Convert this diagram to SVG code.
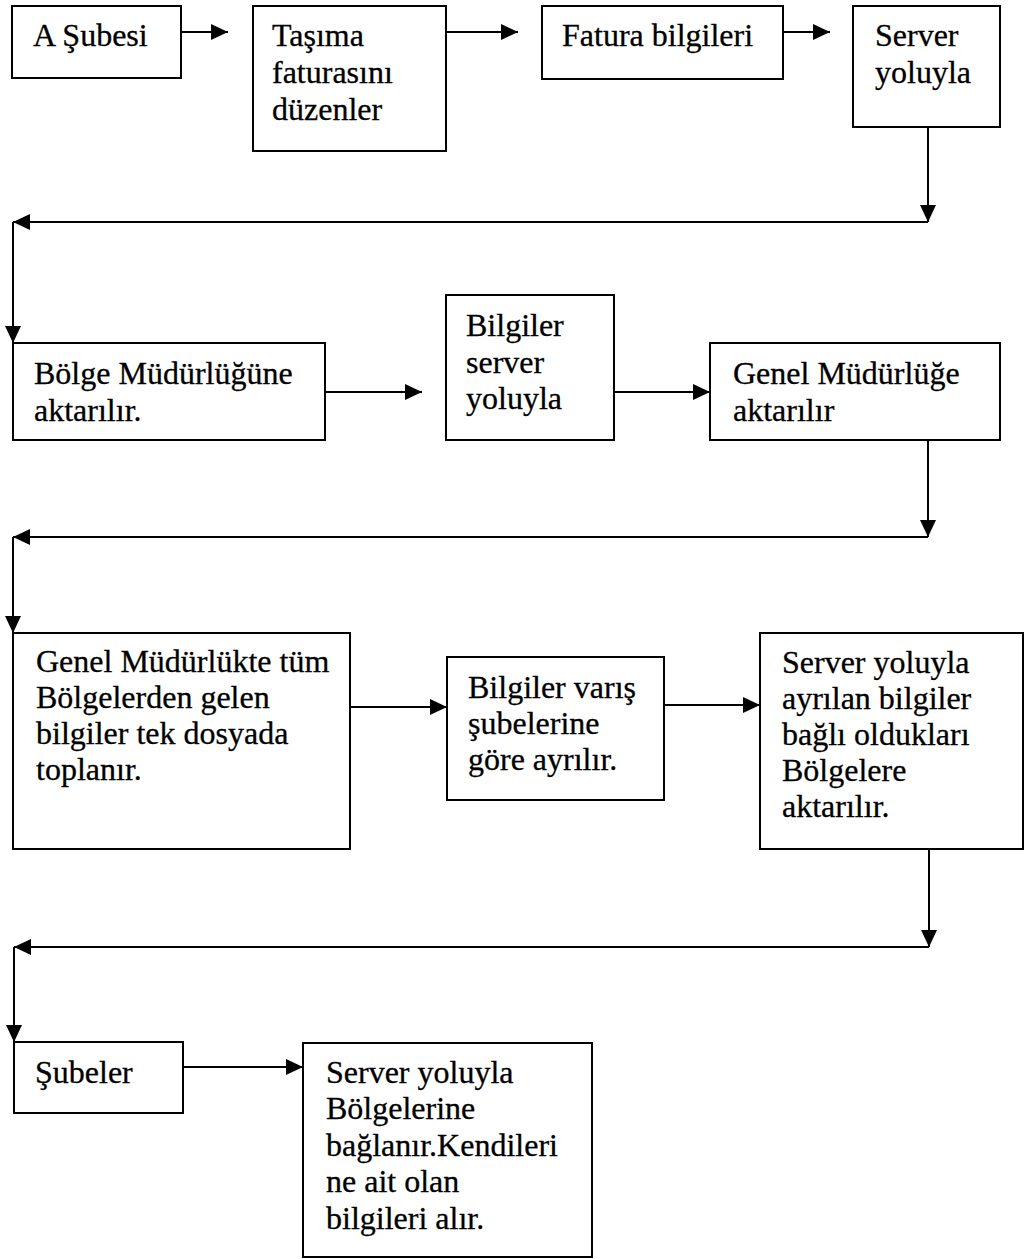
<svg xmlns="http://www.w3.org/2000/svg" width="1025" height="1259" viewBox="0 0 1025 1259">
<style>
.box{fill:#fff;stroke:#000;stroke-width:2}
.t{font-family:"Liberation Serif","Times New Roman",serif;font-size:32px;fill:#000;stroke:#000;stroke-width:0.3}
.c{stroke:#000;stroke-width:2;fill:none;marker-end:url(#ah)}
</style>
<defs>
<marker id="ah" markerUnits="userSpaceOnUse" markerWidth="18" markerHeight="16" refX="17" refY="8" orient="auto">
<path d="M0,0 L17,8 L0,16 z" fill="#000"/>
</marker>
</defs>
<rect width="1025" height="1259" fill="#fff"/>
<g id="connectors">
<line class="c" x1="181" y1="32" x2="228" y2="32"/>
<line class="c" x1="446" y1="32" x2="518" y2="32"/>
<line class="c" x1="783" y1="32" x2="830" y2="32"/>
<line class="c" x1="928" y1="127" x2="928" y2="222"/>
<line class="c" x1="928" y1="222" x2="13" y2="222"/>
<line class="c" x1="13" y1="222" x2="13" y2="343"/>
<line class="c" x1="325" y1="392" x2="422" y2="392"/>
<line class="c" x1="614" y1="392" x2="710" y2="392"/>
<line class="c" x1="928" y1="440" x2="928" y2="537"/>
<line class="c" x1="928" y1="537" x2="13" y2="537"/>
<line class="c" x1="13" y1="537" x2="13" y2="633"/>
<line class="c" x1="350" y1="707" x2="447" y2="707"/>
<line class="c" x1="664" y1="705" x2="760" y2="705"/>
<line class="c" x1="929" y1="849" x2="929" y2="947"/>
<line class="c" x1="929" y1="947" x2="14" y2="947"/>
<line class="c" x1="14" y1="947" x2="14" y2="1042"/>
<line class="c" x1="183" y1="1067" x2="303" y2="1067"/>
</g>
<g id="n1"><rect class="box" x="12" y="6" width="169" height="72"/><text class="t" x="33" y="46">A Şubesi</text></g>
<g id="n2"><rect class="box" x="253" y="6" width="193" height="145"/><text class="t" x="272" y="46">Taşıma</text><text class="t" x="272" y="83">faturasını</text><text class="t" x="272" y="120">düzenler</text></g>
<g id="n3"><rect class="box" x="542" y="6" width="241" height="73"/><text class="t" x="562" y="46">Fatura bilgileri</text></g>
<g id="n4"><rect class="box" x="853" y="6" width="147" height="121"/><text class="t" x="875" y="46">Server</text><text class="t" x="875" y="83">yoluyla</text></g>
<g id="n5"><rect class="box" x="13" y="343" width="312" height="97"/><text class="t" x="34" y="384">Bölge Müdürlüğüne</text><text class="t" x="34" y="421">aktarılır.</text></g>
<g id="n6"><rect class="box" x="446" y="295" width="168" height="145"/><text class="t" x="466" y="336">Bilgiler</text><text class="t" x="466" y="373">server</text><text class="t" x="466" y="409">yoluyla</text></g>
<g id="n7"><rect class="box" x="710" y="343" width="290" height="97"/><text class="t" x="733" y="384">Genel Müdürlüğe</text><text class="t" x="733" y="421">aktarılır</text></g>
<g id="n8"><rect class="box" x="13" y="633" width="337" height="216"/><text class="t" x="36" y="672">Genel Müdürlükte tüm</text><text class="t" x="36" y="708">Bölgelerden gelen</text><text class="t" x="36" y="744">bilgiler tek dosyada</text><text class="t" x="36" y="780">toplanır.</text></g>
<g id="n9"><rect class="box" x="447" y="657" width="217" height="143"/><text class="t" x="468" y="698">Bilgiler varış</text><text class="t" x="468" y="734">şubelerine</text><text class="t" x="468" y="770">göre ayrılır.</text></g>
<g id="n10"><rect class="box" x="760" y="633" width="263" height="216"/><text class="t" x="782" y="673">Server yoluyla</text><text class="t" x="782" y="709">ayrılan bilgiler</text><text class="t" x="782" y="745">bağlı oldukları</text><text class="t" x="782" y="781">Bölgelere</text><text class="t" x="782" y="817">aktarılır.</text></g>
<g id="n11"><rect class="box" x="14" y="1042" width="169" height="71"/><text class="t" x="35" y="1083">Şubeler</text></g>
<g id="n12"><rect class="box" x="303" y="1043" width="289" height="214"/><text class="t" x="326" y="1083">Server yoluyla</text><text class="t" x="326" y="1119">Bölgelerine</text><text class="t" x="326" y="1156">bağlanır.Kendileri</text><text class="t" x="326" y="1192">ne ait olan</text><text class="t" x="326" y="1229">bilgileri alır.</text></g>
</svg>
